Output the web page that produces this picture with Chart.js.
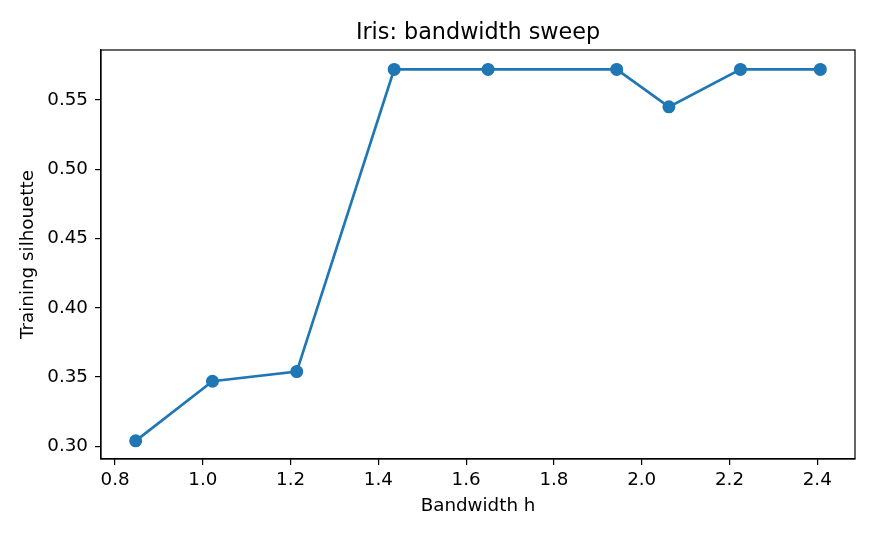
<!DOCTYPE html>
<html>
<head>
<meta charset="utf-8">
<script src="https://cdn.jsdelivr.net/npm/chart.js@4/dist/chart.umd.min.js"></script>
<style>
  html, body { margin: 0; padding: 0; background: #ffffff; }
  #wrap { width: 875px; height: 538px; }
</style>
</head>
<body>
<div id="wrap"><canvas id="c" width="875" height="538"></canvas></div>
<script>
const bandwidths = [0.847, 1.022, 1.214, 1.436, 1.650, 1.943, 2.062, 2.225, 2.407];
const silhouettes = [0.304, 0.347, 0.354, 0.572, 0.572, 0.572, 0.545, 0.572, 0.572];
const xTicks = [0.8, 1.0, 1.2, 1.4, 1.6, 1.8, 2.0, 2.2, 2.4];
const yTicks = [0.30, 0.35, 0.40, 0.45, 0.50, 0.55];
const titleText = 'Iris: bandwidth sweep';

const FONT = 'DejaVu Sans';
const TICK_SIZE = 18.3;
const TITLE_SIZE = 22.3;
const points = bandwidths.map((x, i) => ({ x: x, y: silhouettes[i] }));

const framePlugin = {
  id: 'frame',
  afterDraw(chart) {
    const a = chart.chartArea;
    const ctx = chart.ctx;
    ctx.save();
    ctx.strokeStyle = '#000';
    ctx.lineWidth = 1.2;
    ctx.strokeRect(a.left, a.top, a.right - a.left, a.bottom - a.top);
    ctx.fillStyle = '#000';
    ctx.font = TITLE_SIZE + 'px "' + FONT + '"';
    ctx.textAlign = 'center';
    ctx.textBaseline = 'alphabetic';
    ctx.fillText(titleText, (a.left + a.right) / 2, 39.3);
    ctx.restore();
  }
};

new Chart(document.getElementById('c'), {
  type: 'line',
  data: {
    datasets: [{
      data: points,
      borderColor: '#1f77b4',
      backgroundColor: '#1f77b4',
      borderWidth: 2.7,
      pointRadius: 5.8,
      pointBorderWidth: 1.4,
      pointBackgroundColor: '#1f77b4',
      pointBorderColor: '#1f77b4',
      tension: 0,
      fill: false
    }]
  },
  options: {
    responsive: false,
    animation: false,
    devicePixelRatio: 1,
    layout: { padding: { left: 0, right: 20, top: 50, bottom: 0 } },
    plugins: {
      legend: { display: false },
      tooltip: { enabled: false },
      title: { display: false }
    },
    scales: {
      x: {
        type: 'linear',
        min: 0.768,
        max: 2.486,
        afterBuildTicks: (s) => { s.ticks = xTicks.map(v => ({ value: v })); },
        afterFit: (s) => { s.height = 79; },
        ticks: {
          color: '#000',
          font: { family: FONT, size: TICK_SIZE },
          padding: 4,
          maxRotation: 0,
          autoSkip: false,
          callback: (v) => Number(v).toFixed(1)
        },
        grid: { drawOnChartArea: false, drawTicks: true, tickLength: 6, color: '#000', lineWidth: 1.2 },
        border: { display: true, color: '#000', width: 1.2 },
        title: {
          display: true,
          text: 'Bandwidth h',
          color: '#000',
          font: { family: FONT, size: TICK_SIZE, lineHeight: 1.2 },
          padding: { top: 0, bottom: 21 }
        }
      },
      y: {
        type: 'linear',
        min: 0.2909,
        max: 0.586,
        afterBuildTicks: (s) => { s.ticks = yTicks.map(v => ({ value: v })); },
        afterFit: (s) => { s.width = 101; },
        ticks: {
          color: '#000',
          font: { family: FONT, size: TICK_SIZE },
          padding: 7,
          autoSkip: false,
          callback: (v) => Number(v).toFixed(2)
        },
        grid: { drawOnChartArea: false, drawTicks: true, tickLength: 6, color: '#000', lineWidth: 1.2 },
        border: { display: true, color: '#000', width: 1.2 },
        title: {
          display: true,
          text: 'Training silhouette',
          color: '#000',
          font: { family: FONT, size: TICK_SIZE, lineHeight: 1.2 },
          padding: { top: 17, bottom: 0 }
        }
      }
    }
  },
  plugins: [framePlugin]
});
</script>
</body>
</html>
